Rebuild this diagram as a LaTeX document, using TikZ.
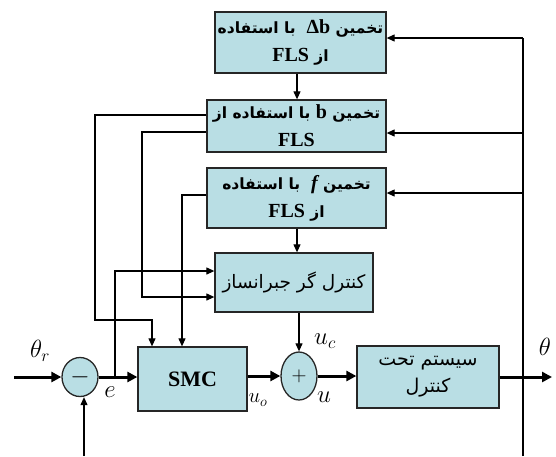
\documentclass[tikz,border=0pt]{standalone}
\usepackage{fontspec}
\setmainfont{Liberation Serif}
\newfontfamily\fa[Script=Arabic]{DejaVu Sans}
\newfontfamily\lat{Liberation Serif}
\TeXXeTstate=1
\usetikzlibrary{arrows.meta,shapes.geometric}
\definecolor{boxfill}{RGB}{185,222,228}
\newcommand{\ltx}[1]{{\lat\fontsize{20}{20}\selectfont #1}}
\tikzset{
  blk/.style={draw=black!85, fill=boxfill, line width=1.3pt, inner sep=1pt, align=center},
  sumc/.style={draw=black!85, fill=boxfill, ellipse, line width=1.3pt, inner sep=0pt},
  sigline/.style={line width=1.1pt},
  sigarr/.style={line width=1.1pt, -{Triangle[length=8pt,width=7pt]}},
  bigarr/.style={line width=3pt, -{Triangle[length=10pt,width=10pt]}},
  lbl/.style={inner sep=0pt},
  fatext/.style={font=\fontsize{15.5}{28}\selectfont\bfseries\fa},
}
\begin{document}
\begin{tikzpicture}[x=1pt,y=-1pt]
\useasboundingbox (0,0) rectangle (556,456);
% blocks
\node[blk, fatext, minimum width=171pt, minimum height=61pt] (b1) at (300.5,42.5)
  {\beginR تخمین \beginL\ltx{Δb}\endL{}\ \ با استفاده\endR\\
   \beginR از \beginL\ltx{FLS}\endL\endR};
\node[blk, fatext, minimum width=179pt, minimum height=52pt] (b2) at (296.5,126)
  {\beginR تخمین \beginL\ltx{b}\endL{} با استفاده از\endR\\
   \ltx{FLS}};
\node[blk, fatext, minimum width=179pt, minimum height=60pt] (b3) at (296.5,198)
  {\beginR تخمین \beginL\ltx{\itshape f}\endL{}\ \ با استفاده\endR\\
   \beginR از \beginL\ltx{FLS}\endL\endR};
\node[blk, font=\fontsize{18.5}{26}\selectfont\fa, minimum width=158pt, minimum height=59pt] (b4) at (294,282.5)
  {\beginR کنترل گر جبرانساز\endR};
\node[blk, font=\fontsize{22}{22}\selectfont\bfseries, minimum width=109pt, minimum height=64pt] (smc) at (192.5,379) {SMC};
\node[blk, font=\fontsize{19}{27}\selectfont\fa, minimum width=142pt, minimum height=62pt] (sys) at (428,377)
  {\beginR سیستم تحت\endR\\ \beginR کنترل\endR};
\node[sumc, minimum width=36pt, minimum height=39pt] (minus) at (80,377) {\fontsize{24}{24}\selectfont$-$};
\node[sumc, minimum width=36pt, minimum height=48pt] (plus) at (299,376) {\fontsize{20}{20}\selectfont$+$};
% coordinates
\coordinate (inp) at (14,377);
\coordinate (out) at (552,377);
\coordinate (br) at (115,377);
\coordinate (fbr) at (523,456);
\coordinate (fbtop) at (523,38);
\coordinate (fbl) at (84,456);
% main path
\draw[bigarr] (inp) -- (minus.west);
\draw[bigarr] (minus.east) -- (minus.east -| smc.west);
\draw[bigarr] (smc.east |- plus.west) -- (plus.west);
\draw[bigarr] (plus.east) -- (plus.east -| sys.west);
\draw[bigarr] (sys.east |- out) -- (out);
\draw[sigarr] (fbl) -- (fbl |- minus.south);
% feedback to estimators
\draw[sigline] (fbr) -- (fbtop);
\draw[sigarr] (fbtop) -- (fbtop -| b1.east);
\draw[sigarr] (523,133) -- (b2.east |- 0,133);
\draw[sigarr] (523,193) -- (b3.east |- 0,193);
% vertical chain
\draw[sigarr] (b1.south -| 297,0) -- (b2.north -| 297,0);
\draw[sigarr] (b3.south -| 297,0) -- (b4.north -| 297,0);
\draw[sigarr] (b4.south -| plus.north) -- (plus.north);
% error branch to compensator
\draw[sigarr] (br) -- (115,271) -- (b4.west |- 0,271);
% b estimator to SMC and compensator
\draw[sigarr] (b2.west |- 0,115) -- (95,115) -- (95,320) -- (152,320) -- (152,0 |- smc.north);
\draw[sigarr] (b2.west |- 0,132) -- (142,132) -- (142,297) -- (b4.west |- 0,297);
% f estimator to SMC
\draw[sigarr] (b3.west |- 0,195) -- (182,195) -- (182,0 |- smc.north);
% labels
\node[lbl, font=\fontsize{23}{23}\selectfont] (lthr) at (40,351) {$\theta_r$};
\node[lbl, font=\fontsize{34}{34}\selectfont] (le) at (110,392) {$e$};
\node[lbl, font=\fontsize{21}{21}\selectfont] (luo) at (258,400) {$u_o$};
\node[lbl, font=\fontsize{25}{25}\selectfont] (luc) at (325,341) {$u_c$};
\node[lbl, font=\fontsize{28}{28}\selectfont] (lu) at (324,397) {$u$};
\node[lbl, font=\fontsize{30}{30}\selectfont] (lth) at (545,347) {$\theta$};
\end{tikzpicture}
\end{document}
